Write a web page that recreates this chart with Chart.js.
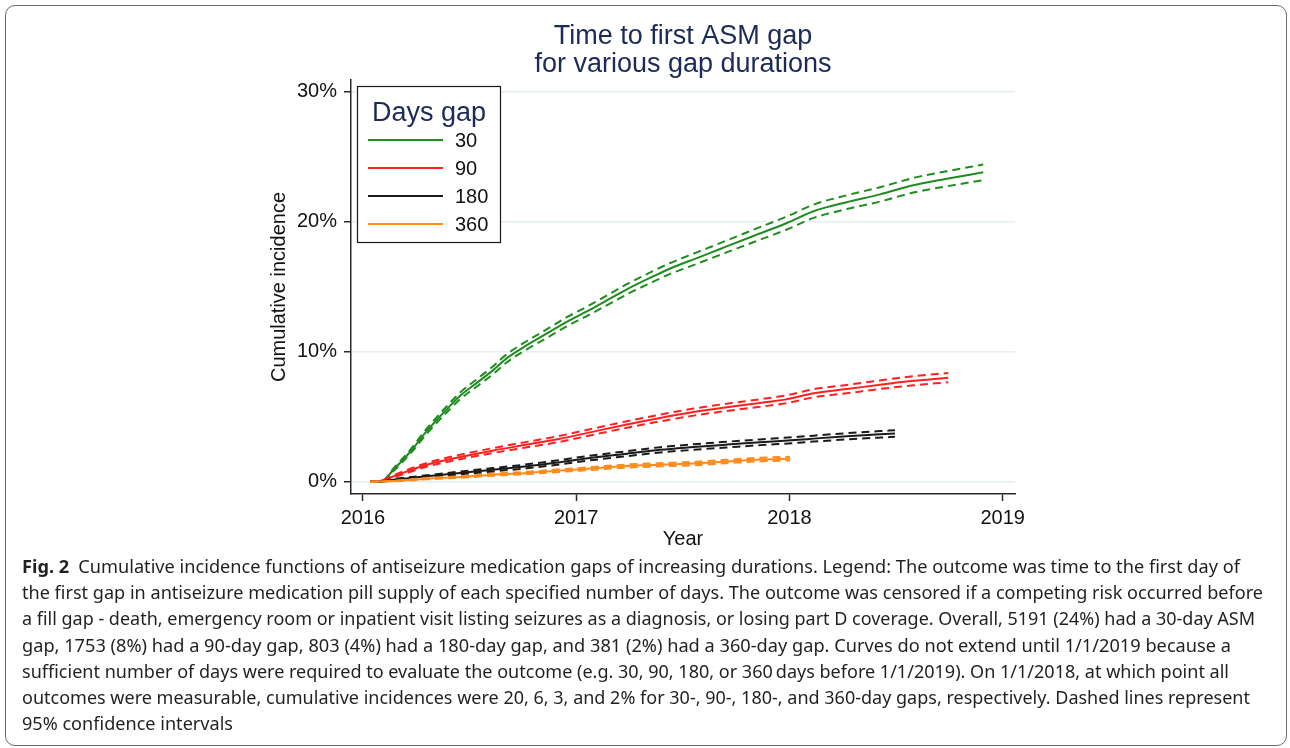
<!DOCTYPE html>
<html>
<head>
<meta charset="utf-8">
<script src="https://cdn.jsdelivr.net/npm/chart.js@4/dist/chart.umd.min.js"></script>
<style>
  html, body { margin: 0; padding: 0; background: #fff; }
  body { width: 1290px; height: 748px; position: relative; overflow: hidden; }
  #frame {
    position: absolute; left: 5px; top: 5px; width: 1282px; height: 741px;
    box-sizing: border-box; border: 1.5px solid #6a6a6a; border-radius: 10px;
  }
  #plot { position: absolute; left: 0; top: 0; }
  #caption {
    position: absolute; left: 22px; top: 553px;
    font-family: "Noto Sans", "Open Sans", sans-serif; font-size: 18px;
    line-height: 26.2px; color: #231f20;
  }
  #caption div { white-space: nowrap; height: 26.2px; }
  #caption span { display: inline-block; transform-origin: 0 50%; }
</style>
</head>
<body>
<div id="frame"></div>
<canvas id="plot" width="1290" height="560"></canvas>
<div id="caption">
  <div><span><b>Fig. 2</b>&ensp;Cumulative incidence functions of antiseizure medication gaps of increasing durations. Legend: The outcome was time to the first day of</span></div>
  <div><span>the first gap in antiseizure medication pill supply of each specified number of days. The outcome was censored if a competing risk occurred before</span></div>
  <div><span>a fill gap - death, emergency room or inpatient visit listing seizures as a diagnosis, or losing part D coverage. Overall, 5191 (24%) had a 30-day ASM</span></div>
  <div><span>gap, 1753 (8%) had a 90-day gap, 803 (4%) had a 180-day gap, and 381 (2%) had a 360-day gap. Curves do not extend until 1/1/2019 because a</span></div>
  <div><span>sufficient number of days were required to evaluate the outcome (e.g. 30, 90, 180, or 360&#8201;days before 1/1/2019). On 1/1/2018, at which point all</span></div>
  <div><span>outcomes were measurable, cumulative incidences were 20, 6, 3, and 2% for 30-, 90-, 180-, and 360-day gaps, respectively. Dashed lines represent</span></div>
  <div><span>95% confidence intervals</span></div>
</div>
<script>
// Cumulative incidence (%) of a first ASM supply gap, by gap length (days).
// Time is in decimal years.

const gapLabels = ['30', '90', '180', '360'];

// 30-day gap
const time30 = [2016.034, 2016.084, 2016.143, 2016.222, 2016.300, 2016.378, 2016.456, 2016.534, 2016.612, 2016.675,
                2016.769, 2016.863, 2016.956, 2017.050, 2017.128, 2017.238, 2017.362, 2017.441, 2017.566, 2017.675,
                2017.831, 2017.988, 2018.113, 2018.269, 2018.425, 2018.581, 2018.738, 2018.909];
const cif30  = [0, 0, 0.92, 2.3, 3.9, 5.3, 6.6, 7.6, 8.6, 9.5, 10.5, 11.4, 12.3, 13.1, 13.8, 14.8, 15.8, 16.4, 17.2, 17.9,
                18.9, 19.9, 20.8, 21.5, 22.1, 22.8, 23.3, 23.8];
const upper30 = [0, 0, 1.02, 2.45, 4.1, 5.53, 6.86, 7.88, 8.9, 9.81, 10.82, 11.73, 12.65, 13.46, 14.17, 15.19, 16.21, 16.82, 17.64, 18.35,
                 19.38, 20.4, 21.31, 22.03, 22.65, 23.36, 23.88, 24.4];
const lower30 = [0, 0, 0.82, 2.15, 3.7, 5.07, 6.34, 7.32, 8.3, 9.19, 10.18, 11.07, 11.95, 12.74, 13.43, 14.41, 15.39, 15.98, 16.76, 17.45,
                 18.42, 19.4, 20.29, 20.97, 21.55, 22.24, 22.72, 23.2];

// 90-day gap
const time90 = [2016.034, 2016.080, 2016.143, 2016.300, 2016.456, 2016.612, 2016.769, 2016.925, 2017.081, 2017.238,
                2017.394, 2017.550, 2017.706, 2017.862, 2017.990, 2018.113, 2018.269, 2018.425, 2018.581, 2018.745];
const cif90  = [0, 0.05, 0.41, 1.3, 1.9, 2.4, 2.85, 3.3, 3.85, 4.4, 4.9, 5.35, 5.72, 6.05, 6.35, 6.8, 7.12, 7.46, 7.76, 8.0];
const upper90 = [0, 0.05, 0.49, 1.44, 2.07, 2.59, 3.06, 3.53, 4.09, 4.65, 5.16, 5.62, 6.0, 6.34, 6.65, 7.11, 7.44, 7.79, 8.11, 8.36];
const lower90 = [0, 0.05, 0.33, 1.16, 1.73, 2.21, 2.64, 3.07, 3.61, 4.15, 4.64, 5.08, 5.44, 5.76, 6.05, 6.49, 6.8, 7.13, 7.41, 7.64];

// 180-day gap
const time180 = [2016.034, 2016.080, 2016.143, 2016.300, 2016.456, 2016.612, 2016.769, 2016.925, 2017.081, 2017.238,
                 2017.394, 2017.550, 2017.706, 2017.862, 2018.042, 2018.113, 2018.269, 2018.425, 2018.495];
const cif180  = [0, 0, 0.15, 0.41, 0.67, 0.92, 1.18, 1.5, 1.85, 2.15, 2.45, 2.66, 2.85, 3.03, 3.22, 3.31, 3.49, 3.64, 3.7];
const upper180 = [0, 0, 0.19, 0.49, 0.78, 1.05, 1.33, 1.67, 2.03, 2.34, 2.65, 2.87, 3.07, 3.25, 3.45, 3.54, 3.73, 3.89, 3.95];
const lower180 = [0, 0, 0.11, 0.33, 0.56, 0.79, 1.03, 1.33, 1.67, 1.96, 2.25, 2.45, 2.63, 2.81, 2.99, 3.08, 3.25, 3.39, 3.45];

// 360-day gap
const time360 = [2016.034, 2016.143, 2016.300, 2016.456, 2016.612, 2016.769, 2016.925, 2017.019, 2017.238, 2017.394,
                 2017.550, 2017.706, 2017.862, 2018.003];
const cif360  = [0, 0.05, 0.23, 0.36, 0.54, 0.67, 0.85, 0.95, 1.2, 1.3, 1.39, 1.55, 1.7, 1.77];
const upper360 = [0, 0.07, 0.28, 0.42, 0.62, 0.76, 0.95, 1.06, 1.32, 1.42, 1.52, 1.68, 1.84, 1.91];
const lower360 = [0, 0.03, 0.18, 0.30, 0.46, 0.58, 0.75, 0.84, 1.08, 1.18, 1.26, 1.42, 1.56, 1.63];

// Axis tick values
const yearTicks = [2016, 2017, 2018, 2019];
const percentTicks = [0, 10, 20, 30];

const NAVY = '#1b2a57';
const FONT = '"Liberation Sans", Arial, sans-serif';

const series = [
  { label: gapLabels[0], color: '#1e8c1e', t: time30,  est: cif30,  hi: upper30,  lo: lower30,  order: 4 },
  { label: gapLabels[1], color: '#ff2020', t: time90,  est: cif90,  hi: upper90,  lo: lower90,  order: 3 },
  { label: gapLabels[2], color: '#1a1a1a', t: time180, est: cif180, hi: upper180, lo: lower180, order: 2 },
  { label: gapLabels[3], color: '#ff8c1a', t: time360, est: cif360, hi: upper360, lo: lower360, order: 1 }
];

const datasets = [];
series.forEach(s => {
  const pts = vals => s.t.map((x, i) => ({ x: x, y: vals[i] }));
  const common = { borderColor: s.color, pointRadius: 0, fill: false, order: s.order,
                   cubicInterpolationMode: 'monotone' };
  datasets.push(Object.assign({ label: s.label, data: pts(s.est), borderWidth: 2, isEstimate: true }, common));
  datasets.push(Object.assign({ label: s.label + ' upper 95% CI', data: pts(s.hi), borderWidth: 2, borderDash: [8, 5] }, common));
  datasets.push(Object.assign({ label: s.label + ' lower 95% CI', data: pts(s.lo), borderWidth: 2, borderDash: [8, 5] }, common));
});

// Boxed legend in the upper-left of the plot region
const gapLegend = {
  id: 'gapLegend',
  afterDatasetsDraw(chart) {
    const ctx = chart.ctx;
    const { left, top } = chart.chartArea;
    const bx = left + 6.5, by = top + 6.5, bw = 143, bh = 156;
    ctx.save();
    ctx.fillStyle = '#ffffff';
    ctx.fillRect(bx, by, bw, bh);
    ctx.strokeStyle = '#1a1a1a';
    ctx.lineWidth = 1.2;
    ctx.strokeRect(bx, by, bw, bh);

    ctx.fillStyle = NAVY;
    ctx.font = '27px ' + FONT;
    ctx.textAlign = 'center';
    ctx.textBaseline = 'alphabetic';
    ctx.fillText('Days gap', bx + bw / 2, top + 40.5);

    const entries = chart.data.datasets.filter(d => d.isEstimate);
    ctx.font = '20px ' + FONT;
    ctx.textAlign = 'left';
    ctx.textBaseline = 'middle';
    entries.forEach((d, i) => {
      const y = top + 60 + i * 28;
      ctx.strokeStyle = d.borderColor;
      ctx.lineWidth = 2;
      ctx.beginPath();
      ctx.moveTo(left + 17, y);
      ctx.lineTo(left + 92, y);
      ctx.stroke();
      ctx.fillStyle = '#111111';
      ctx.fillText(d.label, left + 104, y + 1);
    });
    ctx.restore();
  }
};

new Chart(document.getElementById('plot'), {
  type: 'line',
  data: { datasets: datasets },
  plugins: [gapLegend],
  options: {
    responsive: false,
    animation: false,
    devicePixelRatio: 1,
    layout: { padding: { left: 250, right: 275, top: 0, bottom: 0 } },
    plugins: {
      legend: { display: false },
      tooltip: { enabled: false },
      title: {
        display: true,
        fullSize: false,
        text: ['Time to first ASM gap', 'for various gap durations'],
        color: NAVY,
        font: { family: FONT, size: 27, weight: 'normal', lineHeight: 28 / 27 },
        padding: { top: 23, bottom: 1 }
      }
    },
    scales: {
      x: {
        type: 'linear',
        min: 2015.944,
        max: 2019.058,
        afterFit(scale) { scale.height = 66; },
        afterBuildTicks(scale) { scale.ticks = yearTicks.map(v => ({ value: v })); },
        ticks: {
          callback: v => String(Math.round(v)),
          color: '#111111',
          font: { family: FONT, size: 20 },
          padding: 5,
          maxRotation: 0,
          autoSkip: false
        },
        grid: { drawOnChartArea: false, drawTicks: true, tickLength: 7, tickColor: '#2a2a2a', tickWidth: 1.5 },
        border: { display: true, color: '#2a2a2a', width: 1.5 },
        title: {
          display: true, text: 'Year', color: '#111111',
          font: { family: FONT, size: 20 }, padding: { top: 0, bottom: 9 }
        }
      },
      y: {
        type: 'linear',
        min: -0.95,
        max: 30.9,
        afterFit(scale) { scale.width = 101; },
        afterBuildTicks(scale) { scale.ticks = percentTicks.map(v => ({ value: v })); },
        ticks: {
          callback: v => v + '%',
          color: '#111111',
          font: { family: FONT, size: 20 },
          padding: 7
        },
        grid: {
          drawOnChartArea: true, color: '#e4edf2', lineWidth: 1.5,
          drawTicks: true, tickLength: 7, tickColor: '#2a2a2a', tickWidth: 1.5
        },
        border: { display: true, color: '#2a2a2a', width: 1.5 },
        title: {
          display: true, text: 'Cumulative incidence', color: '#111111',
          font: { family: FONT, size: 20 }, padding: { top: 17, bottom: 0 }
        }
      }
    }
  }
});

// Fit each caption line to its set width
const captionRight = [1240, 1263, 1255, 1231, 1229, 1250, 233];
document.querySelectorAll('#caption span').forEach((sp, i) => {
  const w = sp.getBoundingClientRect().width;
  sp.style.transform = 'scaleX(' + ((captionRight[i] - 22) / w) + ')';
});
</script>
</body>
</html>
